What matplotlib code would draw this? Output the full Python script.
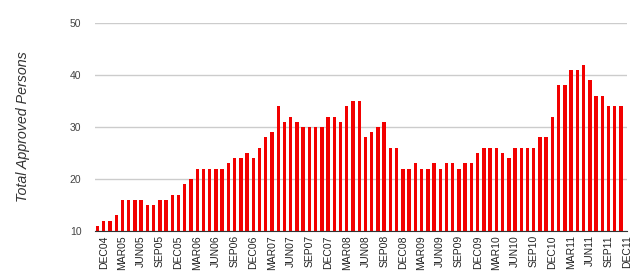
import matplotlib

matplotlib.use("Agg")
import matplotlib.pyplot as plt
import numpy as np

# monthly approvals, NOV04 .. DEC11 (DEC11 has no bar)
months = [
    "NOV04", "DEC04",
    "JAN05", "FEB05", "MAR05", "APR05", "MAY05", "JUN05",
    "JUL05", "AUG05", "SEP05", "OCT05", "NOV05", "DEC05",
    "JAN06", "FEB06", "MAR06", "APR06", "MAY06", "JUN06",
    "JUL06", "AUG06", "SEP06", "OCT06", "NOV06", "DEC06",
    "JAN07", "FEB07", "MAR07", "APR07", "MAY07", "JUN07",
    "JUL07", "AUG07", "SEP07", "OCT07", "NOV07", "DEC07",
    "JAN08", "FEB08", "MAR08", "APR08", "MAY08", "JUN08",
    "JUL08", "AUG08", "SEP08", "OCT08", "NOV08", "DEC08",
    "JAN09", "FEB09", "MAR09", "APR09", "MAY09", "JUN09",
    "JUL09", "AUG09", "SEP09", "OCT09", "NOV09", "DEC09",
    "JAN10", "FEB10", "MAR10", "APR10", "MAY10", "JUN10",
    "JUL10", "AUG10", "SEP10", "OCT10", "NOV10", "DEC10",
    "JAN11", "FEB11", "MAR11", "APR11", "MAY11", "JUN11",
    "JUL11", "AUG11", "SEP11", "OCT11", "NOV11", "DEC11",
]
approved = [
    11, 12,
    12, 13, 16, 16, 16, 16,
    15, 15, 16, 16, 17, 17,
    19, 20, 22, 22, 22, 22,
    22, 23, 24, 24, 25, 24,
    26, 28, 29, 34, 31, 32,
    31, 30, 30, 30, 30, 32,
    32, 31, 34, 35, 35, 28,
    29, 30, 31, 26, 26, 22,
    22, 23, 22, 22, 23, 22,
    23, 23, 22, 23, 23, 25,
    26, 26, 26, 25, 24, 26,
    26, 26, 26, 28, 28, 32,
    38, 38, 41, 41, 42, 39,
    36, 36, 34, 34, 34, np.nan,
]
# labels shown every third month, starting at DEC04
tick_labels = months[1::3]

plt.rcParams["font.family"] = ["Liberation Sans", "DejaVu Sans"]

fig = plt.figure(figsize=(6.4, 2.79), dpi=100)
ax = fig.add_axes([0.148, 0.172, 0.832, 0.746])

x = np.arange(len(months))
ax.bar(x, approved, width=0.55, color="#f20000", zorder=3)

ax.set_ylim(10, 50)
ax.set_xlim(-0.45, len(months) - 1)
ax.set_yticks([10, 20, 30, 40, 50])
ax.tick_params(axis="y", length=0, labelsize=7.5, labelcolor="#444444", pad=9.5)
ax.set_xticks(x[1::3])
ax.set_xticklabels(tick_labels, rotation=90)
ax.tick_params(axis="x", length=0, labelsize=7.5, labelcolor="#222222", pad=3)

ax.grid(axis="y", color="#cccccc", linewidth=1, zorder=0)
for side in ["top", "right", "left"]:
    ax.spines[side].set_visible(False)
ax.spines["bottom"].set_color("#333333")
ax.spines["bottom"].set_zorder(4)

ax.set_ylabel("Total Approved Persons", fontsize=10.3, style="italic",
              color="#333333")
ax.yaxis.set_label_coords(-0.122, 0.5)

plt.savefig("out.png", dpi=100)
